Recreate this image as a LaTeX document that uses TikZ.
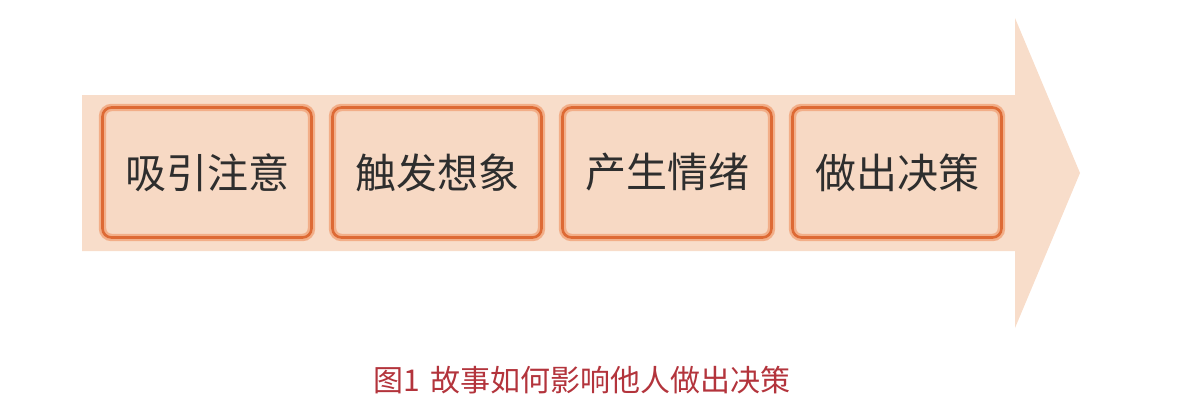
\documentclass[tikz,border=0pt]{standalone}
\usepackage{fontspec}
\newfontfamily\cjk{Noto Sans CJK SC}
\definecolor{arrowfill}{HTML}{F8DDCA}
\definecolor{boxfill}{HTML}{F7D9C4}
\definecolor{boxedge}{HTML}{DD6A35}
\definecolor{boxglow}{HTML}{F2AE88}
\definecolor{captionred}{HTML}{B3343C}
\tikzset{
  stage/.style={rounded corners=9pt, minimum width=209pt, minimum height=130pt,
    inner sep=0pt, outer sep=0pt, fill=boxfill, draw=boxglow, double=boxedge,
    double distance=2.6pt, line width=2.4pt, text=black!82,
    font=\cjk\fontsize{41}{46}\selectfont},
}
\begin{document}
\begin{tikzpicture}[x=1pt, y=-1pt]
  \useasboundingbox (0, 0) rectangle (1192, 416);

  % big arrow behind the steps
  \fill [arrowfill] (82, 95) -- (1015, 95) -- (1015, 18) -- (1080, 173)
    -- (1015, 328) -- (1015, 251) -- (82, 251) -- cycle;

  \node [stage] (attention) at (207, 172.5) {吸引注意};
  \node [stage] (imagine) at (437, 172.5) {触发想象};
  \node [stage] (emotion) at (667, 172.5) {产生情绪};
  \node [stage] (decision) at (897, 172.5) {做出决策};

  \node [text=captionred, font=\cjk\fontsize{30}{34}\selectfont] (caption)
    at (582, 380) {图1\hspace*{11pt}故事如何影响他人做出决策};
\end{tikzpicture}
\end{document}
